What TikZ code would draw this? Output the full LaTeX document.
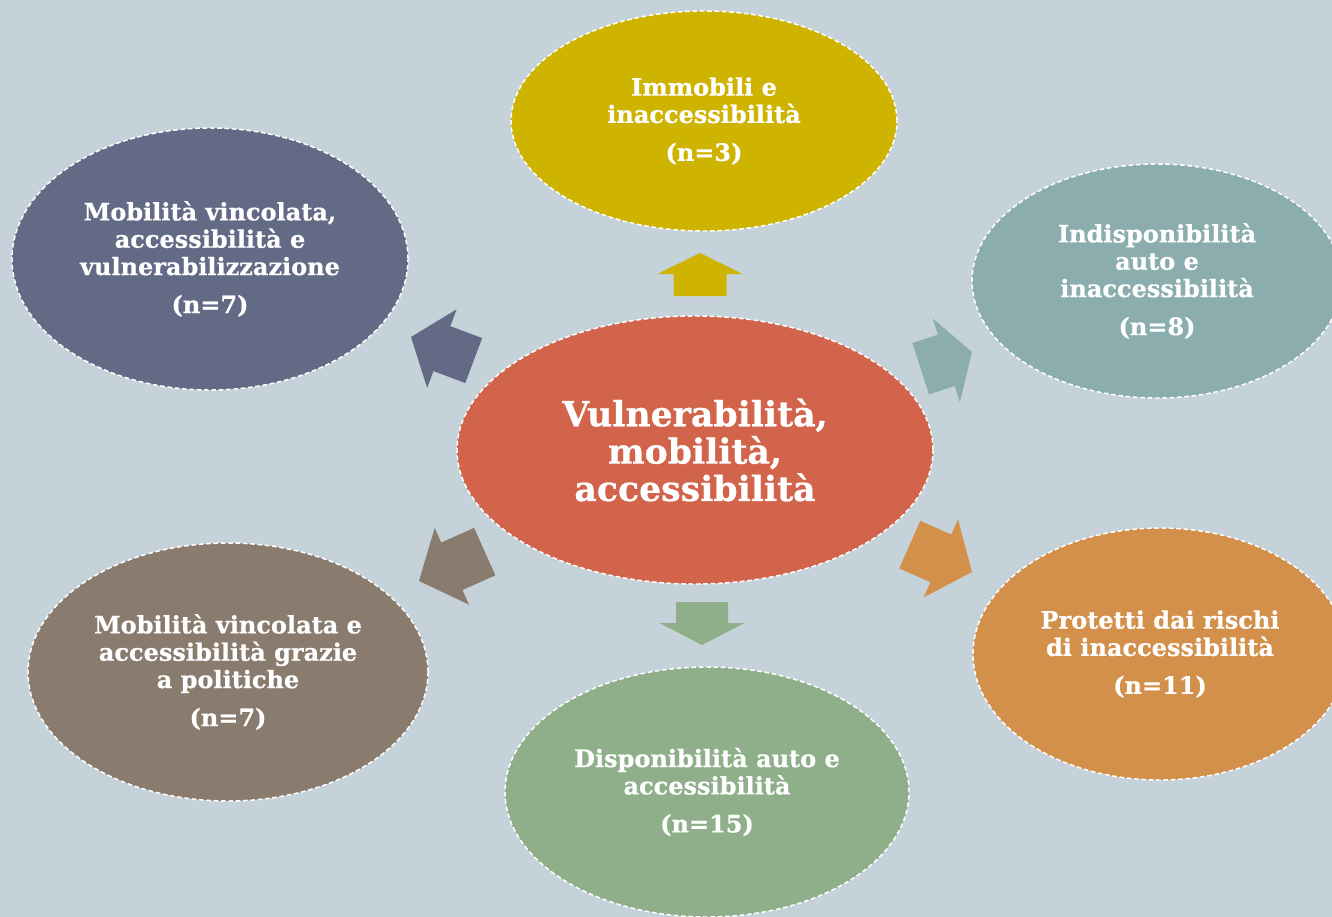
\documentclass[tikz,border=0pt]{standalone}
\usepackage{fontspec}
\setmainfont{DejaVu Serif}[BoldFeatures={FakeBold=0.6}]
\usetikzlibrary{shapes.geometric,calc}
\definecolor{bg}{HTML}{C6D2D9}
\definecolor{cmain}{HTML}{D1644B}
\definecolor{ctop}{HTML}{CEB400}
\definecolor{ctl}{HTML}{636A86}
\definecolor{ctr}{HTML}{8BADAD}
\definecolor{cbr}{HTML}{D2904B}
\definecolor{cbot}{HTML}{8FAF8B}
\definecolor{cbl}{HTML}{8A7B6F}
\newcommand{\blockarrow}[7]{%
 \fill[#7] (#1)
  -- ($(#1)+({#2+180}:#4)+({#2+90}:#5)$)
  -- ($(#1)+({#2+180}:#4)+({#2+90}:#6)$)
  -- ($(#1)+({#2+180}:#3)+({#2+90}:#6)$)
  -- ($(#1)+({#2+180}:#3)+({#2-90}:#6)$)
  -- ($(#1)+({#2+180}:#4)+({#2-90}:#6)$)
  -- ($(#1)+({#2+180}:#4)+({#2-90}:#5)$)
  -- cycle;}
\tikzset{
  bubble/.style={ellipse, draw=white, line width=1.1pt, dash pattern=on 3.5pt off 2pt,
    inner sep=0pt, align=center, text=white,
    font=\bfseries\fontsize{18}{20.5}\selectfont},
  mainbubble/.style={bubble, font=\bfseries\fontsize{26}{28}\selectfont},
}
\begin{document}
\begin{tikzpicture}[x=0.75pt,y=-0.75pt]
\clip (0,0) rectangle (1332,917);
\fill[bg] (0,0) rectangle (1332,917);
\coordinate (tT) at (700,253);
\coordinate (tTL) at (411,337);
\coordinate (tTR) at (972,352);
\coordinate (tBR) at (972,572);
\coordinate (tB) at (702,645);
\coordinate (tBL) at (419,581);
\blockarrow{tT}{270}{43}{21}{42.5}{26.5}{ctop}
\blockarrow{tTL}{200.6}{67}{33}{42}{24}{ctl}
\blockarrow{tTR}{342}{54}{27}{44}{27}{ctr}
\blockarrow{tBR}{23.7}{68}{34}{42.5}{26}{cbr}
\blockarrow{tB}{90}{43}{22}{42.5}{26}{cbot}
\blockarrow{tBL}{155.9}{72}{36}{42}{26}{cbl}
\node[mainbubble, fill=cmain, minimum width=357pt, minimum height=201pt] (main) at (695,450)
  {Vulnerabilità,\\mobilità,\\accessibilità};
\node[bubble, fill=ctop, minimum width=289.5pt, minimum height=165pt] (top) at (704,121)
  {Immobili e\\inaccessibilità\\[8pt](n=3)};
\node[bubble, fill=ctl, minimum width=297pt, minimum height=196.5pt] (tl) at (210,259)
  {Mobilità vincolata,\\accessibilità e\\vulnerabilizzazione\\[8pt](n=7)};
\node[bubble, fill=ctr, minimum width=277.5pt, minimum height=175.5pt] (tr) at (1157,281)
  {Indisponibilità\\auto e\\inaccessibilità\\[8pt](n=8)};
\node[bubble, fill=cbr, minimum width=280.5pt, minimum height=189pt] (br) at (1160,654)
  {Protetti dai rischi\\di inaccessibilità\\[8pt](n=11)};
\node[bubble, fill=cbot, minimum width=303pt, minimum height=187.5pt] (bot) at (707,792)
  {Disponibilità auto e\\accessibilità\\[8pt](n=15)};
\node[bubble, fill=cbl, minimum width=300pt, minimum height=193.5pt] (bl) at (228,672)
  {Mobilità vincolata e\\accessibilità grazie\\a politiche\\[8pt](n=7)};
\end{tikzpicture}
\end{document}
